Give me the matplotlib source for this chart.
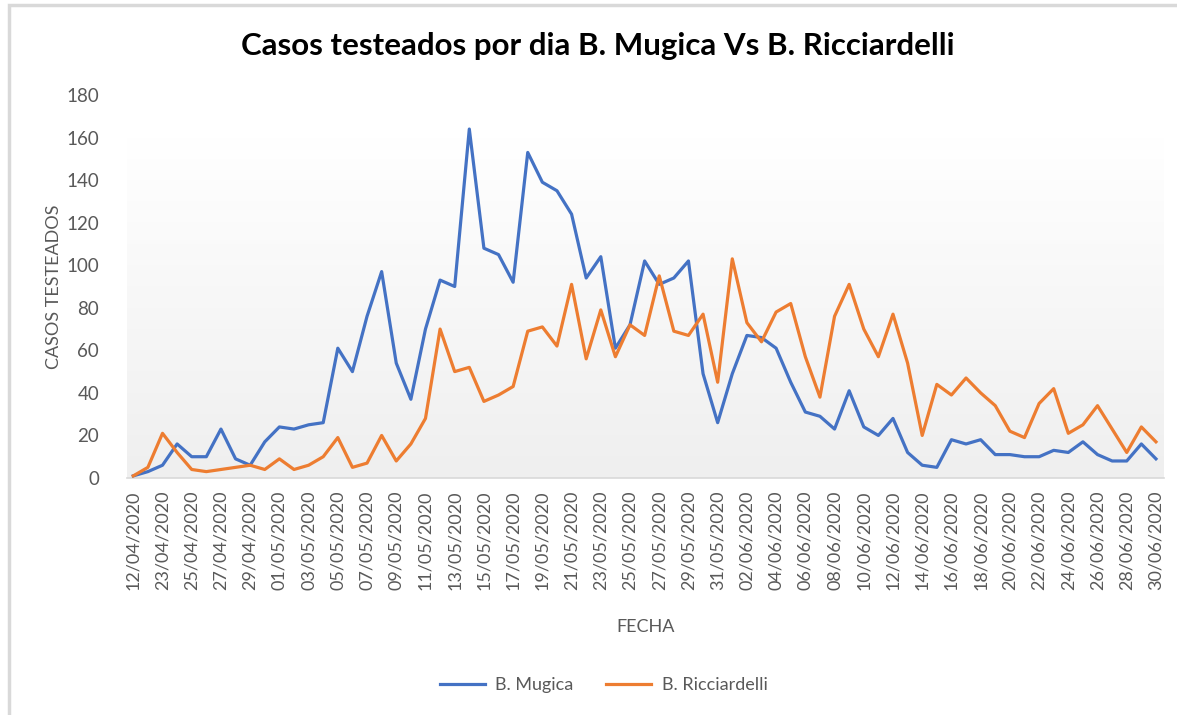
import numpy as np
import matplotlib
matplotlib.use("Agg")
import matplotlib.pyplot as plt
from matplotlib.patches import Rectangle

plt.rcParams['font.family'] = ['Lato', 'DejaVu Sans']

# Data
fechas = ["12/04/2020", "22/04/2020"] + \
    ["%02d/04/2020" % d for d in range(23, 31)] + \
    ["%02d/05/2020" % d for d in range(1, 32)] + \
    ["%02d/06/2020" % d for d in range(1, 31)]

mugica = [1, 3, 6, 16, 10, 10, 23, 9, 6, 17,
          24, 23, 25, 26, 61, 50, 76, 97, 54, 37,
          70, 93, 90, 164, 108, 105, 92, 153, 139, 135,
          124, 94, 104, 61, 72, 102, 91, 94, 102, 49,
          26, 49, 67, 66, 61, 45, 31, 29, 23, 41,
          24, 20, 28, 12, 6, 5, 18, 16, 18, 11,
          11, 10, 10, 13, 12, 17, 11, 8, 8, 16, 9]

ricciardelli = [1, 5, 21, 12, 4, 3, 4, 5, 6, 4,
                9, 4, 6, 10, 19, 5, 7, 20, 8, 16,
                28, 70, 50, 52, 36, 39, 43, 69, 71, 62,
                91, 56, 79, 57, 72, 67, 95, 69, 67, 77,
                45, 103, 73, 64, 78, 82, 57, 38, 76, 91,
                70, 57, 77, 54, 20, 44, 39, 47, 40, 34,
                22, 19, 35, 42, 21, 25, 34, 23, 12, 24, 17]

x = np.arange(len(fechas))

W, H = 1177, 715
fig = plt.figure(figsize=(W / 100, H / 100), dpi=100)

# chart border (Excel style)
fig.add_artist(Rectangle((9 / W, -0.01), 1.2, 1.01 - 5 / H, transform=fig.transFigure,
                         fill=False, edgecolor="#d9d9d9", linewidth=2.5))

ax = fig.add_axes([127 / W, (H - 478) / H, (1164 - 127) / W, (478 - 95) / H])
ax.set_xlim(-0.43, 70.55)
ax.set_ylim(0, 180)

# gradient background of the plot area
grad = np.linspace(0, 1, 256).reshape(-1, 1)
cmap = matplotlib.colors.LinearSegmentedColormap.from_list("g", ["#efefef", "#ffffff"])
ax.imshow(grad, aspect="auto", cmap=cmap, origin="lower",
          extent=[-0.43, 70.55, 0, 160], zorder=0)

ax.plot(x, mugica, color="#4472C4", linewidth=2.3, label="B. Mugica", zorder=3)
ax.plot(x, ricciardelli, color="#ED7D31", linewidth=2.3, label="B. Ricciardelli", zorder=3)

ax.set_yticks(range(0, 181, 20))
ax.set_xticks(x[::2])
ax.set_xticklabels(fechas[::2], rotation=90)
ax.tick_params(length=0, labelsize=13, colors="#595959", pad=9)
ax.tick_params(axis="y", pad=20, labelsize=13.5)

for s in ["top", "right", "left"]:
    ax.spines[s].set_visible(False)
ax.spines["bottom"].set_color("#d9d9d9")
ax.spines["bottom"].set_linewidth(1.2)

ax.set_xlabel("FECHA", fontsize=13, color="#595959", labelpad=21)
ax.set_ylabel("CASOS TESTEADOS", fontsize=13, color="#595959", labelpad=3)

fig.text(0.508, 1 - 46 / H, "Casos testeados por dia B. Mugica Vs B. Ricciardelli",
         ha="center", va="center", fontsize=22.5, fontweight="bold", color="black")

fig.legend(loc="center", bbox_to_anchor=(0.513, 1 - 685 / H), ncol=2, frameon=False,
           fontsize=13, labelcolor="#595959", handlelength=2.5, handletextpad=0.6,
           columnspacing=1.8)

fig.savefig("out.png", dpi=100)
